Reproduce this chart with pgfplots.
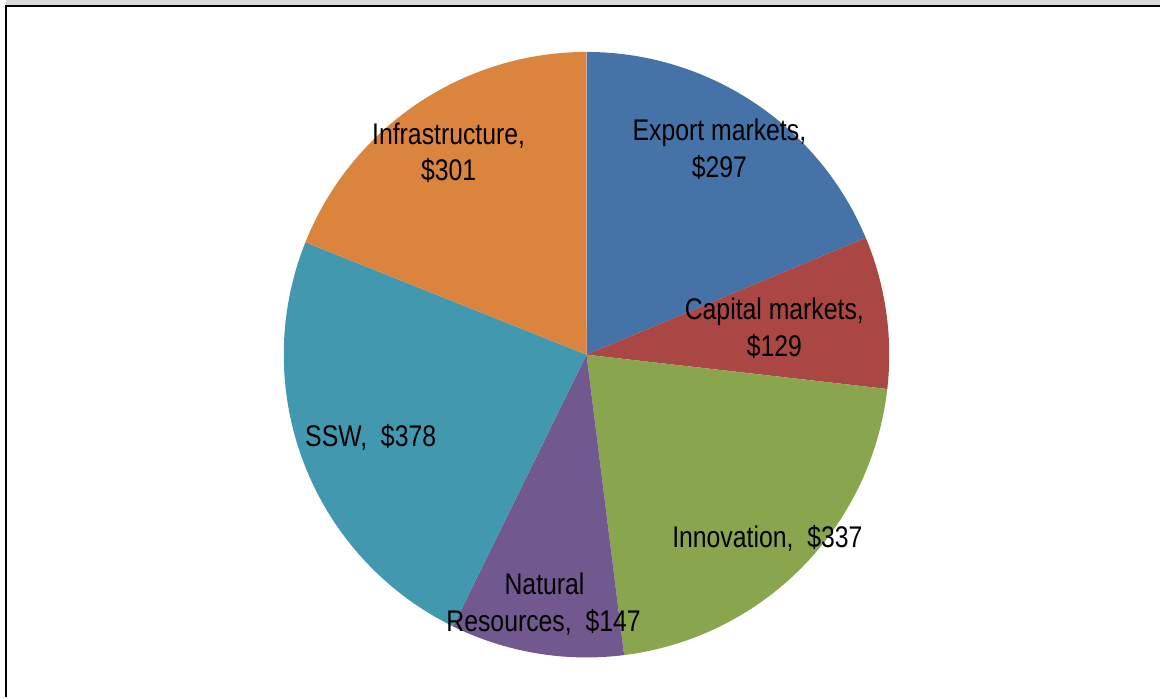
\documentclass[border=0pt]{standalone}
\usepackage{pgfplots}
\pgfplotsset{compat=1.18}
\usepackage{fontspec}
\setmainfont{Liberation Sans}[FakeStretch=0.83]
\definecolor{cExp}{HTML}{4572A7}
\definecolor{cCap}{HTML}{AA4643}
\definecolor{cInn}{HTML}{89A54E}
\definecolor{cNat}{HTML}{71588F}
\definecolor{cSSW}{HTML}{4198AF}
\definecolor{cInf}{HTML}{DB843D}
\definecolor{band}{HTML}{D9D9D9}
% values (clockwise from 12 o'clock)
\def\vExp{297}\def\vCap{129}\def\vInn{337}\def\vNat{147}\def\vSSW{378}\def\vInf{301}
\pgfmathsetmacro\total{\vExp+\vCap+\vInn+\vNat+\vSSW+\vInf}
\pgfmathsetmacro\aA{90}
\pgfmathsetmacro\aB{\aA-\vExp/\total*360}
\pgfmathsetmacro\aC{\aB-\vCap/\total*360}
\pgfmathsetmacro\aD{\aC-\vInn/\total*360}
\pgfmathsetmacro\aE{\aD-\vNat/\total*360}
\pgfmathsetmacro\aF{\aE-\vSSW/\total*360}
\pgfmathsetmacro\aG{\aF-\vInf/\total*360}
\def\cx{587}\def\cy{343}\def\r{303}
\begin{document}
\begin{tikzpicture}
\begin{axis}[x=0.5bp,y=0.5bp,xmin=0,xmax=1161,ymin=0,ymax=698,
  hide axis,clip=false,samples=90,
  every axis plot/.append style={draw=none}]
\path (rel axis cs:0,0) rectangle (rel axis cs:1,1);
\fill[band] (axis cs:6,692) rectangle (axis cs:1161,698);
\addplot[fill=cExp,domain=\aB:\aA] ({\cx+\r*cos(x)},{\cy+\r*sin(x)}) -- (axis cs:\cx,\cy) -- cycle;
\addplot[fill=cCap,domain=\aC:\aB] ({\cx+\r*cos(x)},{\cy+\r*sin(x)}) -- (axis cs:\cx,\cy) -- cycle;
\addplot[fill=cInn,domain=\aD:\aC] ({\cx+\r*cos(x)},{\cy+\r*sin(x)}) -- (axis cs:\cx,\cy) -- cycle;
\addplot[fill=cNat,domain=\aE:\aD] ({\cx+\r*cos(x)},{\cy+\r*sin(x)}) -- (axis cs:\cx,\cy) -- cycle;
\addplot[fill=cSSW,domain=\aF:\aE] ({\cx+\r*cos(x)},{\cy+\r*sin(x)}) -- (axis cs:\cx,\cy) -- cycle;
\addplot[fill=cInf,domain=\aG:\aF] ({\cx+\r*cos(x)},{\cy+\r*sin(x)}) -- (axis cs:\cx,\cy) -- cycle;
\draw[line width=1bp] (axis cs:6,0) -- (axis cs:6,692) -- (axis cs:1161,692);
\tikzset{lab/.style={align=center,inner sep=0pt,font=\fontsize{15}{18.5}\selectfont,anchor=base}}
\node[lab] at (axis cs:449,698-145) {Infrastructure,};
\node[lab] at (axis cs:449,698-181) {\$301};
\node[lab] at (axis cs:720,698-141) {Export markets,};
\node[lab] at (axis cs:720,698-178) {\$297};
\node[lab] at (axis cs:775,698-320) {Capital markets,};
\node[lab] at (axis cs:775,698-357) {\$129};
\node[lab] at (axis cs:768,698-548) {Innovation,\ \ \$337};
\node[lab] at (axis cs:371,698-447) {SSW,\ \ \$378};
\node[lab] at (axis cs:545,698-595) {Natural};
\node[lab] at (axis cs:544,698-632) {Resources,\ \ \$147};
\end{axis}
\end{tikzpicture}
\end{document}
